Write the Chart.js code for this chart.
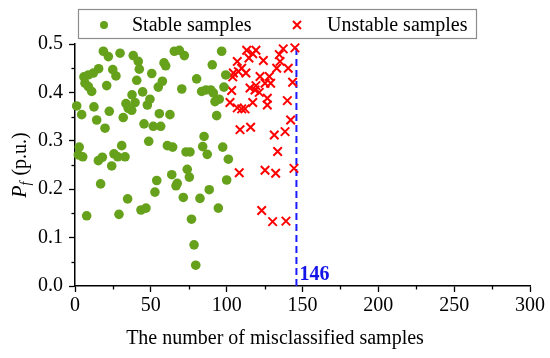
<!DOCTYPE html>
<html><head><meta charset="utf-8">
<script src="https://cdn.jsdelivr.net/npm/chart.js@4/dist/chart.umd.min.js"></script>
<style>html,body{margin:0;padding:0;background:#fff}canvas{display:block}</style>
</head><body>
<canvas id="c" width="550" height="358" style="width:550px;height:358px"></canvas>
<script>
const stableX = [18.7,22.0,29.7,38.4,41.7,42.4,65.5,68.8,72.1,58.7,59.8,15.6,12.1,8.8,5.9,24.9,27.0,50.6,40.7,57.6,54.9,70.4,6.6,8.8,11.0,20.9,44.6,37.6,39.6,49.4,47.7,33.6,35.1,37.4,1.1,4.4,12.5,22.6,31.8,55.6,62.6,14.3,19.8,45.5,51.6,56.5,48.6,2.8,30.8,60.9,64.4,73.2,75.8,2.2,5.1,15.4,18.0,25.7,28.2,33.0,24.2,74.0,75.4,63.8,53.9,67.4,66.6,52.7,16.9,71.4,34.7,43.5,46.8,7.7,29.0,76.8,96.7,90.5,99.4,80.2,83.5,86.4,89.5,91.2,98.2,95.1,92.3,93.4,85.1,84.2,97.4,101.1,87.2,100.0,88.5,82.4,94.5,78.5,79.6];
const stableY = [0.485,0.474,0.481,0.476,0.464,0.448,0.485,0.487,0.476,0.461,0.455,0.449,0.440,0.436,0.432,0.447,0.434,0.439,0.425,0.423,0.411,0.407,0.419,0.412,0.402,0.414,0.401,0.395,0.379,0.386,0.374,0.377,0.367,0.363,0.372,0.354,0.370,0.361,0.348,0.356,0.354,0.343,0.326,0.335,0.330,0.330,0.299,0.287,0.290,0.290,0.287,0.277,0.277,0.271,0.267,0.259,0.266,0.273,0.267,0.267,0.248,0.241,0.225,0.230,0.218,0.212,0.207,0.194,0.211,0.183,0.180,0.157,0.161,0.145,0.148,0.138,0.485,0.457,0.436,0.428,0.402,0.405,0.405,0.399,0.411,0.386,0.381,0.352,0.309,0.288,0.287,0.262,0.272,0.219,0.199,0.181,0.161,0.085,0.043];
const unstableX = [145.0,113.2,119.3,117.2,137.3,134.7,107.0,114.7,124.2,135.2,109.9,133.0,140.6,104.4,107.7,112.7,104.0,122.0,128.1,143.5,125.3,129.0,103.3,115.4,119.3,121.5,118.7,126.8,102.2,109.9,107.0,112.1,117.2,126.8,140.0,142.2,108.8,115.8,131.4,138.5,133.6,108.3,125.3,132.3,144.4,123.1,130.3,139.1];
const unstableY = [0.492,0.487,0.487,0.480,0.490,0.478,0.464,0.471,0.466,0.464,0.450,0.450,0.450,0.440,0.443,0.440,0.432,0.433,0.433,0.421,0.419,0.419,0.404,0.409,0.414,0.400,0.405,0.388,0.379,0.366,0.368,0.366,0.379,0.374,0.383,0.343,0.323,0.328,0.312,0.319,0.278,0.234,0.239,0.233,0.243,0.156,0.133,0.134];
const thresholdX = 146;
const seriesNames = ['Stable samples', 'Unstable samples'];
const xTitle = 'The number of misclassified samples';
const xTickLabels = ['0','50','100','150','200','250','300'];
const yTickLabels = ['0.0','0.1','0.2','0.3','0.4','0.5'];

const FAM = 'Liberation Serif';
const GREEN = '#66a11c', RED = '#ff0000', BLUE = '#1a1aff';
Chart.defaults.font.family = FAM;
Chart.defaults.font.size = 20;
Chart.defaults.color = '#000';

const toPts = (xs, ys) => xs.map((x, i) => ({x: x, y: ys[i]}));

const decor = {
  id: 'decor',
  afterDraw(chart) {
    const ctx = chart.ctx, xs = chart.scales.x, ys = chart.scales.y, a = chart.chartArea;
    ctx.save();
    ctx.strokeStyle = '#000'; ctx.lineWidth = 1.3;
    for (let v = 25; v < 300; v += 50) {
      const px = Math.round(xs.getPixelForValue(v)) + 0.5;
      ctx.beginPath(); ctx.moveTo(px, a.bottom); ctx.lineTo(px, a.bottom + 3.5); ctx.stroke();
    }
    for (let k = 0; k < 5; k++) {
      const py = Math.round(ys.getPixelForValue(0.05 + k * 0.1)) + 0.5;
      ctx.beginPath(); ctx.moveTo(a.left, py); ctx.lineTo(a.left - 3.5, py); ctx.stroke();
    }
    ctx.fillStyle = '#1414e8'; ctx.font = 'bold 20px "' + FAM + '"';
    ctx.textAlign = 'left'; ctx.textBaseline = 'alphabetic';
    ctx.fillText(String(thresholdX), xs.getPixelForValue(thresholdX) + 3, ys.getPixelForValue(0) - 6);
    ctx.fillStyle = '#000'; ctx.font = '20px "' + FAM + '"'; ctx.textAlign = 'center';
    ctx.fillText(xTitle, chart.width / 2, 344);
    ctx.fillStyle = '#fff'; ctx.fillRect(78, 9, 399, 30);
    ctx.strokeStyle = '#8c8c8c'; ctx.lineWidth = 1.2; ctx.strokeRect(78.5, 9.5, 398, 29);
    ctx.fillStyle = GREEN; ctx.beginPath(); ctx.arc(104, 25, 4, 0, Math.PI * 2); ctx.fill();
    ctx.strokeStyle = RED; ctx.lineWidth = 2; ctx.beginPath();
    ctx.moveTo(293, 21); ctx.lineTo(301, 29); ctx.moveTo(301, 21); ctx.lineTo(293, 29); ctx.stroke();
    ctx.fillStyle = '#000'; ctx.font = '20px "' + FAM + '"'; ctx.textAlign = 'left'; ctx.textBaseline = 'alphabetic';
    ctx.fillText(seriesNames[0], 132, 31);
    ctx.fillText(seriesNames[1], 327, 31);
    ctx.translate(26, (a.top + a.bottom) / 2);
    ctx.rotate(-Math.PI / 2);
    const f1 = 'italic 20px "' + FAM + '"', f2 = 'italic 14px "' + FAM + '"', f3 = '20px "' + FAM + '"';
    ctx.font = f1; const w1 = ctx.measureText('P').width;
    ctx.font = f2; const w2 = ctx.measureText('f').width;
    ctx.font = f3; const w3 = ctx.measureText(' (p.u.)').width;
    let x0 = -(w1 + w2 + 1 + w3) / 2;
    ctx.fillStyle = '#000'; ctx.textAlign = 'left';
    ctx.font = f1; ctx.fillText('P', x0, 0);
    ctx.font = f2; ctx.fillText('f', x0 + w1, 4);
    ctx.font = f3; ctx.fillText(' (p.u.)', x0 + w1 + w2 + 1, 0);
    ctx.restore();
  }
};

new Chart(document.getElementById('c'), {
  type: 'scatter',
  data: {
    datasets: [
      { label: seriesNames[0], data: toPts(stableX, stableY), pointStyle: 'circle', pointRadius: 4.8,
        backgroundColor: GREEN, borderColor: GREEN, borderWidth: 0, clip: false },
      { label: seriesNames[1], data: toPts(unstableX, unstableY), pointStyle: 'crossRot', pointRadius: 6,
        borderColor: RED, backgroundColor: RED, borderWidth: 2, clip: false },
      { label: 'threshold', type: 'line', data: [{x: thresholdX, y: 0}, {x: thresholdX, y: 0.5}],
        borderColor: BLUE, borderWidth: 2, borderDash: [7, 4], pointRadius: 0, showLine: true, fill: false, clip: false }
    ]
  },
  options: {
    responsive: false, animation: false, devicePixelRatio: 1,
    layout: { padding: { top: 44, right: 20, left: 0, bottom: 0 } },
    plugins: { legend: { display: false }, tooltip: { enabled: false }, title: { display: false } },
    scales: {
      x: {
        type: 'linear', position: 'bottom', min: 0, max: 300,
        border: { display: true, color: '#000', width: 1.5 },
        grid: { display: true, drawOnChartArea: false, drawTicks: true, tickLength: 6, color: '#000', tickWidth: 1.3 },
        ticks: { stepSize: 50, color: '#000', font: { size: 20, family: FAM }, padding: 2, maxRotation: 0, autoSkip: false,
          callback: (v) => xTickLabels[Math.round(v / 50)] },
        afterFit(s) { s.height = 72; }
      },
      y: {
        type: 'linear', position: 'left', min: 0, max: 0.5,
        border: { display: true, color: '#000', width: 1.5 },
        grid: { display: true, drawOnChartArea: false, drawTicks: true, tickLength: 6, color: '#000', tickWidth: 1.3 },
        ticks: { stepSize: 0.1, color: '#000', font: { size: 20, family: FAM }, padding: 6, autoSkip: false,
          callback: (v) => yTickLabels[Math.round(v * 10)] },
        afterFit(s) { s.width = 75; }
      }
    }
  },
  plugins: [decor]
});
</script>
</body></html>
